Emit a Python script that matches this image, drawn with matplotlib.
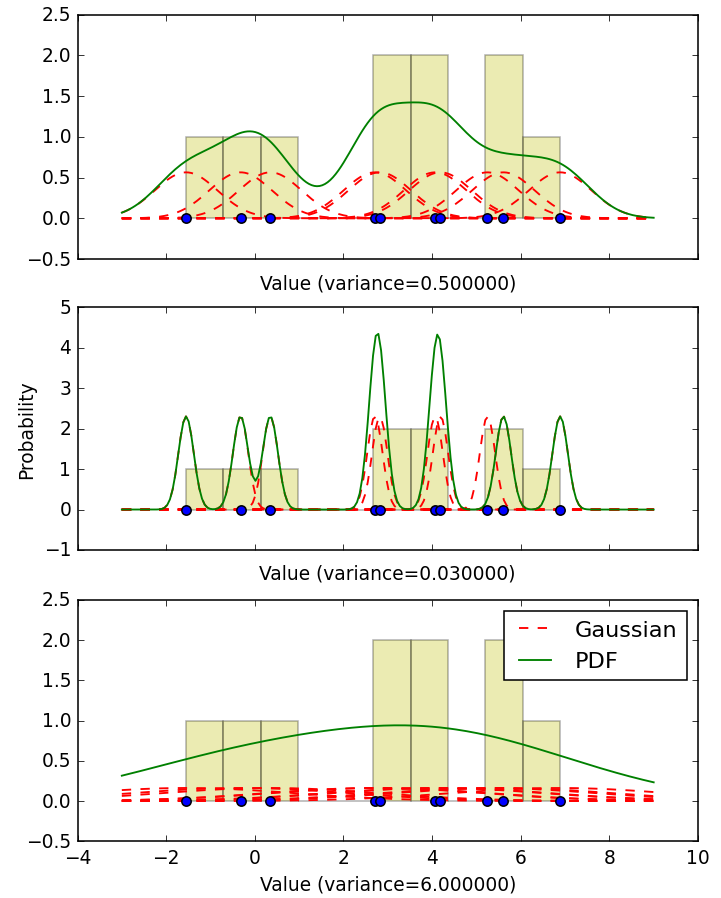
import numpy as np
import matplotlib
matplotlib.use('Agg')
import matplotlib.pyplot as plt

# Data
points = [-1.55, -0.32, 0.35, 2.71, 2.82, 4.07, 4.19, 5.25, 5.61, 6.89]
# The PDF curve in the reference does not include the point at 5.25
pdf_points = [-1.55, -0.32, 0.35, 2.71, 2.82, 4.07, 4.19, 5.61, 6.89]
variances = [0.5, 0.03, 6.0]
ylims = [(-0.5, 2.5), (-1, 5), (-0.5, 2.5)]
yticks = [np.arange(-0.5, 2.51, 0.5), np.arange(-1, 5.1, 1), np.arange(-0.5, 2.51, 0.5)]
xticks = [-4, -2, 0, 2, 4, 6, 8, 10]
x_start, x_stop, n_grid = -3, 9, 200

plt.style.use('classic')
DPI = 112
fig = plt.figure(figsize=(721 / DPI, 899 / DPI), dpi=DPI, facecolor='white')

W, H = 721.0, 899.0
left = 77.5 / W
width = (698 - 77.5) / W
boxes = [(15.7, 260.0), (308.3, 551.0), (601.0, 842.3)]

x = np.linspace(x_start, x_stop, n_grid)


def gauss(xs, mu, var):
    return np.exp(-(xs - mu) ** 2 / (2 * var)) / np.sqrt(2 * np.pi * var)


for i, (var, (top, bot)) in enumerate(zip(variances, boxes)):
    ax = fig.add_axes([left, 1 - bot / H, width, (bot - top) / H])
    ax.hist(points, bins=10, color='y', alpha=0.3, edgecolor='k')
    for j, p in enumerate(points):
        ax.plot(x, gauss(x, p, var), 'r--', lw=1.2,
                label='Gaussian' if j == 0 else None)
    pdf = np.zeros_like(x)
    for p in pdf_points:
        pdf = pdf + gauss(x, p, var)
    ax.plot(x, pdf, 'g-', lw=1.2, label='PDF')
    ax.plot(points, np.zeros(len(points)), 'bo', ms=6, mec='k', mew=1)
    ax.set_xlim(-4, 10)
    ax.set_ylim(*ylims[i])
    ax.set_yticks(yticks[i])
    ax.set_xticks(xticks)
    ax.set_xlabel('Value (variance=%f)' % var)
    if i < 2:
        ax.set_xticklabels([])
    if i == 1:
        ax.set_ylabel('Probability')
    if i == 2:
        ax.legend(loc='upper right')

fig.savefig('out.png', dpi=DPI, facecolor='white')
